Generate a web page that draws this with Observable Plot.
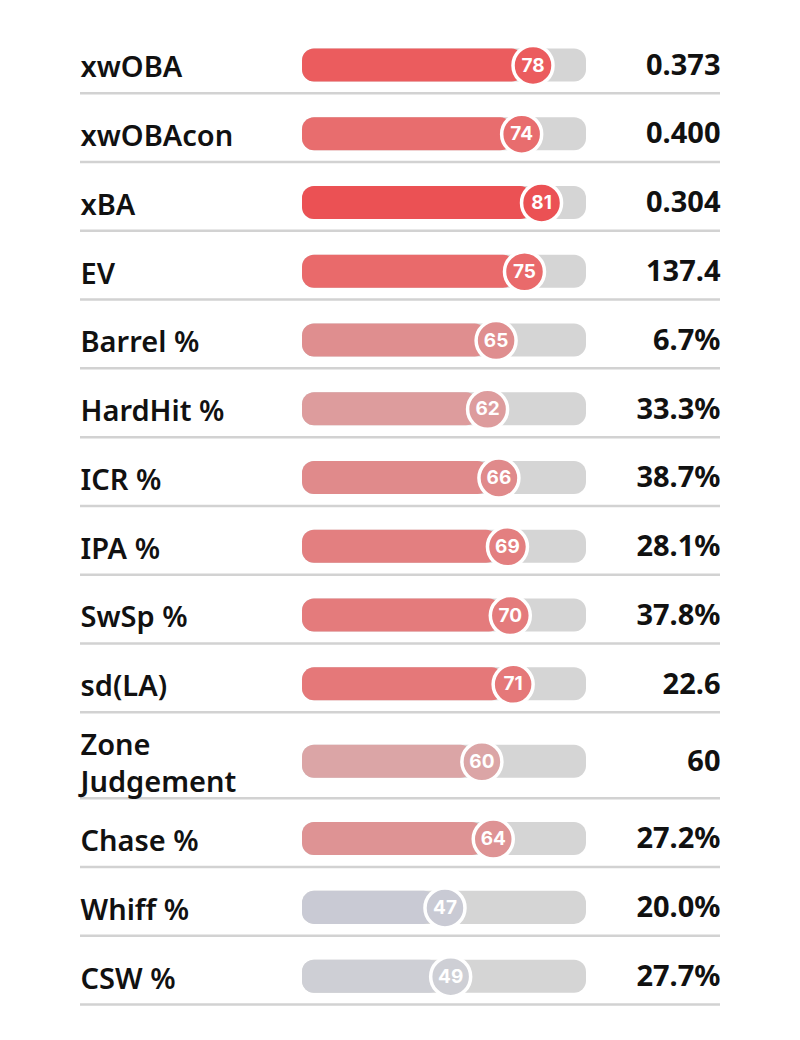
<!DOCTYPE html>
<html>
<head>
<meta charset="utf-8">
<script src="https://cdn.jsdelivr.net/npm/d3@7"></script>
<script src="https://cdn.jsdelivr.net/npm/@observablehq/plot@0.6"></script>
<style>
  html, body { margin: 0; padding: 0; background: #ffffff; }
  #chart svg { display: block; }
</style>
</head>
<body>
<div id="chart"></div>
<script>
const metrics = ["xwOBA", "xwOBAcon", "xBA", "EV", "Barrel %", "HardHit %", "ICR %", "IPA %", "SwSp %", "sd(LA)", "Zone\nJudgement", "Chase %", "Whiff %", "CSW %"];
const percentiles = [78, 74, 81, 75, 65, 62, 66, 69, 70, 71, 60, 64, 47, 49];
const values = ["0.373", "0.400", "0.304", "137.4", "6.7%", "33.3%", "38.7%", "28.1%", "37.8%", "22.6", "60", "27.2%", "20.0%", "27.7%"];

// layout: rows stacked, two-line labels get a taller row
let acc = 0;
const rows = metrics.map((m, i) => {
  const lines = m.split("\n").length;
  const h = lines > 1 ? 1.25 : 1;
  const top = acc;
  acc += h;
  return { label: m, pct: percentiles[i], value: values[i], top, bottom: acc, center: top + h / 2 + 0.095 };
});
const total = acc;
const half = 0.24;

const chart = Plot.plot({
  width: 800,
  height: 1040,
  marginLeft: 80,
  marginRight: 80,
  marginTop: 24,
  marginBottom: 36,
  x: { domain: [0, 100], range: [302, 586], axis: null },
  y: { domain: [0, total], range: [24, 1004], axis: null },
  color: {
    type: "linear",
    domain: [0, 50, 60, 65, 70, 75, 80, 100],
    range: ["#4a55b0", "#d1d1d6", "#dba5a6", "#df8e8f", "#e47b7c", "#e96a6b", "#ec5356", "#e0222c"],
    interpolate: "rgb"
  },
  style: { background: "#ffffff", fontFamily: "'Noto Sans', sans-serif" },
  marks: [
    Plot.ruleY(rows, { y: "bottom", stroke: "#d2d2d2", strokeWidth: 2.5 }),
    Plot.rect(rows, { x1: 0, x2: 100, y1: d => d.center - half, y2: d => d.center + half, fill: "#d5d5d5", rx: 12 }),
    Plot.rect(rows, { x1: 0, x2: "pct", y1: d => d.center - half, y2: d => d.center + half, fill: "pct", rx: 12 }),
    Plot.dot(rows, { x: "pct", y: "center", r: 20, fill: "pct", stroke: "#ffffff", strokeWidth: 3.5, dx: 9 }),
    Plot.text(rows, { x: "pct", y: "center", text: d => String(d.pct), dx: 9, fill: "#ffffff", fontSize: 19, fontWeight: 700, fontFamily: "Inter, sans-serif" }),
    Plot.text(rows, { y: "center", text: "label", frameAnchor: "left", textAnchor: "start", fontSize: 29, fontWeight: 600, lineHeight: 1.28, fill: "#111111" }),
    Plot.text(rows, { y: "center", text: "value", frameAnchor: "right", textAnchor: "end", fontSize: 29, fontWeight: 700, fill: "#111111" })
  ]
});
document.getElementById("chart").appendChild(chart);
</script>
</body>
</html>
